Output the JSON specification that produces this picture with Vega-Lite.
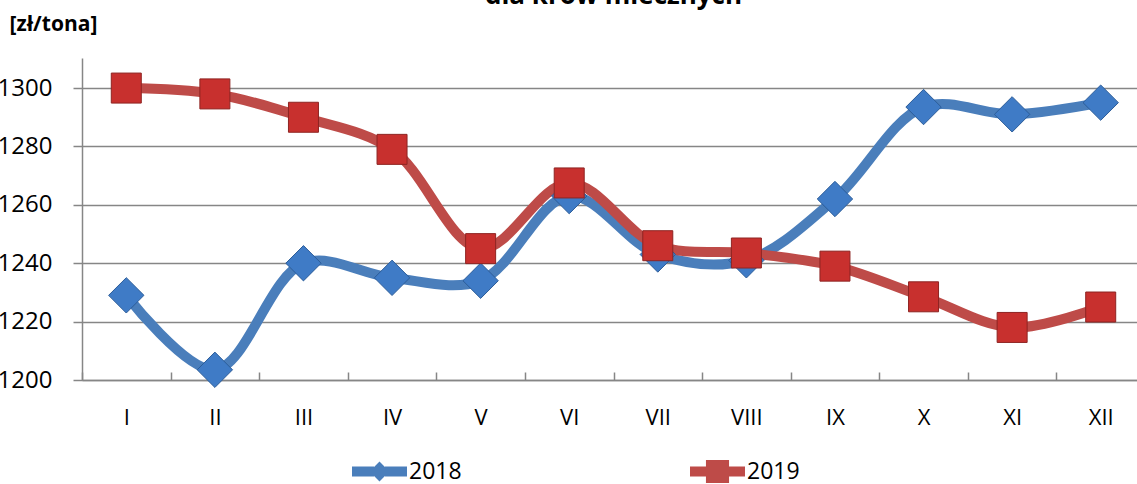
{
  "$schema": "https://vega.github.io/schema/vega-lite/v6.json",
  "autosize": "none",
  "width": 1063,
  "height": 322,
  "padding": {"left": 82, "top": 58, "right": -8, "bottom": 104},
  "background": "white",
  "config": {
    "view": {"stroke": null},
    "font": "Open Sans"
  },
  "title": {
    "text": "dla krów mlecznych",
    "fontSize": 26,
    "fontWeight": "bold",
    "color": "#000000",
    "anchor": "middle",
    "baseline": "alphabetic",
    "offset": 0,
    "dy": 17
  },
  "data": {
    "values": [
      {"month": "I", "year": "2018", "value": 1229},
      {"month": "II", "year": "2018", "value": 1203.5},
      {"month": "III", "year": "2018", "value": 1240},
      {"month": "IV", "year": "2018", "value": 1235},
      {"month": "V", "year": "2018", "value": 1234},
      {"month": "VI", "year": "2018", "value": 1263},
      {"month": "VII", "year": "2018", "value": 1243},
      {"month": "VIII", "year": "2018", "value": 1241},
      {"month": "IX", "year": "2018", "value": 1262},
      {"month": "X", "year": "2018", "value": 1293.5},
      {"month": "XI", "year": "2018", "value": 1291},
      {"month": "XII", "year": "2018", "value": 1295},
      {"month": "I", "year": "2019", "value": 1300},
      {"month": "II", "year": "2019", "value": 1298},
      {"month": "III", "year": "2019", "value": 1290},
      {"month": "IV", "year": "2019", "value": 1279},
      {"month": "V", "year": "2019", "value": 1245},
      {"month": "VI", "year": "2019", "value": 1267.5},
      {"month": "VII", "year": "2019", "value": 1246},
      {"month": "VIII", "year": "2019", "value": 1243.5},
      {"month": "IX", "year": "2019", "value": 1239},
      {"month": "X", "year": "2019", "value": 1228.5},
      {"month": "XI", "year": "2019", "value": 1218},
      {"month": "XII", "year": "2019", "value": 1225}
    ]
  },
  "encoding": {
    "x": {
      "field": "month",
      "type": "nominal",
      "sort": ["I", "II", "III", "IV", "V", "VI", "VII", "VIII", "IX", "X", "XI", "XII"],
      "scale": {"type": "band", "paddingInner": 0, "paddingOuter": 0},
      "axis": {
        "title": null,
        "labelAngle": 0,
        "labelFontSize": 22,
        "labelColor": "#000000",
        "labelPadding": 35,
        "domainColor": "#868686",
        "domainWidth": 1.5,
        "tickColor": "#868686",
        "tickWidth": 1.5,
        "tickSize": -8,
        "tickBand": "extent",
        "grid": false
      }
    },
    "y": {
      "field": "value",
      "type": "quantitative",
      "scale": {"domain": [1200, 1310.3], "nice": false, "zero": false},
      "axis": {
        "values": [1200, 1220, 1240, 1260, 1280, 1300],
        "format": "d",
        "title": "[zł/tona]",
        "titleAngle": 0,
        "titleAlign": "left",
        "titleBaseline": "middle",
        "titleX": -73,
        "titleY": -34,
        "titleFontSize": 21,
        "titleFontWeight": "bold",
        "titleColor": "#000000",
        "labelFontSize": 24,
        "labelColor": "#000000",
        "labelPadding": 21,
        "domainColor": "#868686",
        "domainWidth": 1.5,
        "tickColor": "#868686",
        "tickWidth": 1.5,
        "tickSize": 9,
        "grid": true,
        "gridColor": "#868686",
        "gridWidth": 1.5
      }
    },
    "color": {
      "field": "year",
      "type": "nominal",
      "scale": {"domain": ["2018", "2019"], "range": ["#4A7EBB", "#BE4B48"]},
      "legend": null
    }
  },
  "layer": [
    {
      "mark": {"type": "line", "strokeWidth": 10, "interpolate": "catmull-rom", "strokeCap": "round"}
    },
    {
      "mark": {"type": "point", "filled": true, "opacity": 1, "strokeWidth": 1},
      "encoding": {
        "shape": {
          "field": "year",
          "type": "nominal",
          "scale": {"domain": ["2018", "2019"], "range": ["diamond", "square"]},
          "legend": null
        },
        "size": {
          "field": "year",
          "type": "nominal",
          "scale": {"domain": ["2018", "2019"], "range": [1250, 900]},
          "legend": null
        },
        "fill": {
          "field": "year",
          "type": "nominal",
          "scale": {"domain": ["2018", "2019"], "range": ["#3F7BC6", "#C8302E"]},
          "legend": null
        },
        "stroke": {
          "field": "year",
          "type": "nominal",
          "scale": {"domain": ["2018", "2019"], "range": ["#2C5D99", "#8E2422"]},
          "legend": null
        }
      }
    },
    {
      "transform": [{"filter": "datum.year === '2018'"}],
      "mark": {"type": "point", "filled": true, "opacity": 0},
      "encoding": {
        "color": {"value": "#4A7EBB"},
        "shape": {
          "field": "year",
          "type": "nominal",
          "scale": {
            "domain": ["2018"],
            "range": ["M-1,-0.18H-0.2V0.18H-1Z M0.2,-0.18H1V0.18H0.2Z M-0.36,0L0,-0.36L0.36,0L0,0.36Z"]
          },
          "legend": {
            "title": null,
            "orient": "none",
            "legendX": 270,
            "legendY": 386,
            "symbolSize": 3025,
            "symbolOpacity": 1,
            "symbolStrokeWidth": 0,
            "symbolFillColor": "#4A7EBB",
            "labelFontSize": 23,
            "labelColor": "#000000",
            "labelOffset": 2
          }
        }
      }
    },
    {
      "transform": [{"filter": "datum.year === '2019'"}],
      "mark": {"type": "point", "filled": true, "opacity": 0},
      "encoding": {
        "color": {"value": "#BE4B48"},
        "shape": {
          "field": "year",
          "type": "nominal",
          "scale": {
            "domain": ["2019"],
            "range": ["M-1,-0.18H-0.3V0.18H-1Z M0.3,-0.18H1V0.18H0.3Z M-0.42,-0.42H0.42V0.42H-0.42Z"]
          },
          "legend": {
            "title": null,
            "orient": "none",
            "legendX": 608,
            "legendY": 386,
            "symbolSize": 3025,
            "symbolOpacity": 1,
            "symbolStrokeWidth": 0,
            "symbolFillColor": "#BE4B48",
            "labelFontSize": 23,
            "labelColor": "#000000",
            "labelOffset": 2
          }
        }
      }
    }
  ],
  "resolve": {"scale": {"shape": "independent", "size": "independent"}, "legend": {"shape": "independent"}}
}
